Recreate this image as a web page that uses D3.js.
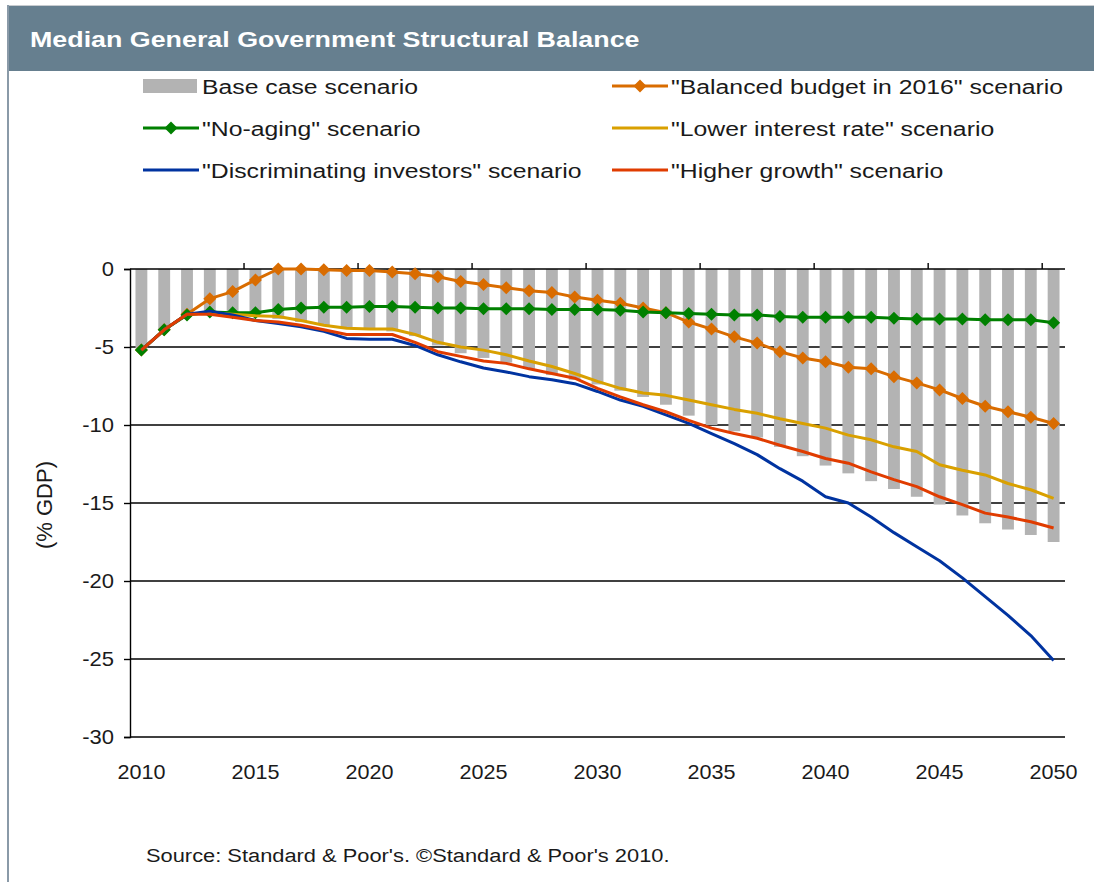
<!DOCTYPE html>
<html>
<head>
<meta charset="utf-8">
<script src="https://cdn.jsdelivr.net/npm/d3@7"></script>
<style>
  body { margin: 0; background: #fff; }
  svg { display: block; font-family: "Liberation Sans", Arial, sans-serif; }
</style>
</head>
<body>
<svg id="chart" width="1094" height="882"></svg>
<script>
// data (% GDP)
const years = d3.range(2010, 2051);
const baseCase = [-5.1, -3.9, -2.9, -2.8, -2.95, -3.05, -3.2, -3.4, -3.6, -3.8,
  -3.9, -4.0, -4.3, -4.9, -5.4, -5.7, -6.0, -6.4, -6.8, -7.1,
  -7.4, -7.8, -8.2, -8.7, -9.4, -10.0, -10.4, -10.8, -11.4, -12.0,
  -12.6, -13.1, -13.6, -14.1, -14.6, -15.1, -15.8, -16.3, -16.7, -17.05, -17.5];
const balancedBudget = [-5.2, -3.9, -2.9, -1.9, -1.45, -0.7, 0, 0, -0.05, -0.1,
  -0.1, -0.2, -0.3, -0.5, -0.8, -1.0, -1.2, -1.4, -1.5, -1.8,
  -2.0, -2.2, -2.5, -2.8, -3.4, -3.85, -4.35, -4.75, -5.3, -5.7,
  -5.95, -6.3, -6.4, -6.9, -7.3, -7.75, -8.3, -8.8, -9.15, -9.5, -9.9];
const noAging = [-5.2, -3.9, -2.95, -2.75, -2.8, -2.8, -2.6, -2.5, -2.45, -2.45,
  -2.4, -2.4, -2.45, -2.5, -2.5, -2.55, -2.55, -2.55, -2.6, -2.6,
  -2.6, -2.65, -2.75, -2.8, -2.85, -2.9, -2.95, -2.95, -3.05, -3.1,
  -3.1, -3.1, -3.1, -3.15, -3.2, -3.2, -3.2, -3.25, -3.25, -3.25, -3.45];
const lowerRate = [-5.2, -3.9, -2.9, -2.8, -2.9, -3.0, -3.05, -3.3, -3.6, -3.8,
  -3.85, -3.85, -4.2, -4.7, -5.0, -5.2, -5.5, -5.9, -6.25, -6.7,
  -7.2, -7.65, -7.95, -8.1, -8.4, -8.7, -9.0, -9.25, -9.6, -9.9,
  -10.2, -10.65, -10.95, -11.4, -11.7, -12.55, -12.9, -13.2, -13.75, -14.15, -14.7];
const discriminating = [-5.2, -3.9, -2.9, -2.7, -2.95, -3.3, -3.5, -3.7, -4.0, -4.45,
  -4.5, -4.5, -4.9, -5.5, -5.95, -6.35, -6.6, -6.9, -7.1, -7.35,
  -7.85, -8.4, -8.8, -9.35, -9.9, -10.55, -11.2, -11.9, -12.8, -13.6,
  -14.6, -15.0, -15.9, -16.9, -17.8, -18.7, -19.8, -21.0, -22.2, -23.5, -25.1];
const higherGrowth = [-5.2, -3.9, -2.9, -2.9, -3.1, -3.3, -3.4, -3.6, -3.9, -4.2,
  -4.2, -4.2, -4.7, -5.3, -5.6, -5.9, -6.05, -6.4, -6.7, -7.0,
  -7.65, -8.2, -8.7, -9.15, -9.7, -10.2, -10.55, -10.85, -11.3, -11.7,
  -12.15, -12.45, -13.0, -13.5, -13.95, -14.6, -15.1, -15.65, -15.9, -16.2, -16.6];
const yTicks = [0, -5, -10, -15, -20, -25, -30];
const xLabels = [2010, 2015, 2020, 2025, 2030, 2035, 2040, 2045, 2050];

const lines = [
  { name: '"Balanced budget in 2016" scenario', values: balancedBudget, color: "#d96c00", marker: true },
  { name: '"No-aging" scenario', values: noAging, color: "#008000", marker: true },
  { name: '"Lower interest rate" scenario', values: lowerRate, color: "#d9a000", marker: false },
  { name: '"Discriminating investors" scenario', values: discriminating, color: "#0033a0", marker: false },
  { name: '"Higher growth" scenario', values: higherGrowth, color: "#e03c00", marker: false }
];
const barColor = "#b3b3b3";

const svg = d3.select("#chart");

// text that is a bit wider than the font, like the stretched original
function wideText(parent, x, y, str, size, sx, opts = {}) {
  const g = parent.append("g").attr("transform", `translate(${x},${y}) scale(${sx},1)`);
  return g.append("text")
    .attr("font-size", size)
    .attr("font-weight", opts.weight || "normal")
    .attr("fill", opts.fill || "#1a1a1a")
    .attr("text-anchor", opts.anchor || "start")
    .text(str);
}

// frame and title bar
svg.append("line").attr("x1", 8).attr("x2", 1094).attr("y1", 5.5).attr("y2", 5.5).attr("stroke", "#c8ccd0");
svg.append("line").attr("x1", 8).attr("x2", 8).attr("y1", 5).attr("y2", 882).attr("stroke", "#8a9aa8").attr("stroke-width", 2);
svg.append("rect").attr("x", 9).attr("y", 6).attr("width", 1085).attr("height", 65).attr("fill", "#667f8f");
wideText(svg, 30, 47, "Median General Government Structural Balance", 22, 1.22, { weight: "bold", fill: "#fff" });

// scales
const plotLeft = 130, plotRight = 1065, plotTop = 269, plotBottom = 737;
const x = d3.scaleBand().domain(years).range([plotLeft, plotRight]).paddingInner(0.48).paddingOuter(0.24);
const y = d3.scaleLinear().domain([-30, 0]).range([plotBottom, plotTop]);
const cx = d => x(d) + x.bandwidth() / 2;

// gridlines
svg.append("g")
  .selectAll("line").data(yTicks.filter(t => t !== 0)).join("line")
  .attr("x1", plotLeft).attr("x2", plotRight)
  .attr("y1", d => y(d)).attr("y2", d => y(d))
  .attr("stroke", "#000").attr("stroke-width", 1.4);

// bars
svg.append("g")
  .selectAll("rect").data(years).join("rect")
  .attr("x", d => x(d))
  .attr("width", x.bandwidth())
  .attr("y", y(0))
  .attr("height", (d, i) => y(baseCase[i]) - y(0))
  .attr("fill", barColor);

// y axis
const yAxis = d3.axisLeft(y).tickValues(yTicks).tickSize(6).tickFormat(d3.format("d"));
const ya = svg.append("g").attr("transform", `translate(${plotLeft},0)`).call(yAxis);
ya.select(".domain").attr("stroke", "#000").attr("stroke-width", 1.4);
ya.selectAll(".tick line").attr("stroke", "#000").attr("stroke-width", 1.4);
ya.selectAll(".tick text").remove();
yTicks.forEach(t => wideText(svg, 114, y(t) + 7, String(t), 20, 1.1, { anchor: "end" }));

// x axis along zero line with ticks between categories every 5 years
svg.append("line").attr("x1", plotLeft).attr("x2", plotRight).attr("y1", y(0)).attr("y2", y(0))
  .attr("stroke", "#000").attr("stroke-width", 1.4);
const step = x.step();
svg.append("g").selectAll("line").data(xLabels.slice(1)).join("line")
  .attr("x1", d => plotLeft + (d - 2010) * step).attr("x2", d => plotLeft + (d - 2010) * step)
  .attr("y1", y(0)).attr("y2", y(0) - 6)
  .attr("stroke", "#000").attr("stroke-width", 1.4);
xLabels.forEach(yr => wideText(svg, cx(yr), 779, String(yr), 20, 1.08, { anchor: "middle" }));

// lines
const line = d3.line().x((d, i) => cx(years[i])).y(d => y(d));
const diamond = "M0,-6.5L6.5,0L0,6.5L-6.5,0Z";
lines.forEach(s => {
  svg.append("path").datum(s.values)
    .attr("d", line).attr("fill", "none")
    .attr("stroke", s.color).attr("stroke-width", 3).attr("stroke-linejoin", "round");
  if (s.marker) {
    svg.append("g").selectAll("path").data(s.values).join("path")
      .attr("transform", (d, i) => `translate(${cx(years[i])},${y(d)})`)
      .attr("d", diamond).attr("fill", s.color);
  }
});

// legend
const legendItems = [
  { name: "Base case scenario", bar: true },
  lines[0], lines[1], lines[2], lines[3], lines[4]
];
const colX = [143, 612], rowY = [86, 128, 170];
legendItems.forEach((it, i) => {
  const lx = colX[i % 2], ly = rowY[Math.floor(i / 2)];
  const g = svg.append("g").attr("transform", `translate(${lx},${ly})`);
  if (it.bar) {
    g.append("rect").attr("x", 0).attr("y", -7).attr("width", 54).attr("height", 14).attr("fill", barColor);
  } else {
    g.append("line").attr("x1", 0).attr("x2", 56).attr("stroke", it.color).attr("stroke-width", 3);
    if (it.marker) g.append("path").attr("transform", "translate(28,0)").attr("d", diamond).attr("fill", it.color);
  }
  wideText(g, 59, 8, it.name, 21, 1.18);
});

// axis title and source
svg.append("text")
  .attr("transform", "translate(52,505) rotate(-90)")
  .attr("text-anchor", "middle").attr("font-size", 22).attr("fill", "#1a1a1a")
  .text("(% GDP)");
wideText(svg, 146, 862, "Source: Standard & Poor's. \u00A9Standard & Poor's 2010.", 19, 1.15);
</script>
</body>
</html>
